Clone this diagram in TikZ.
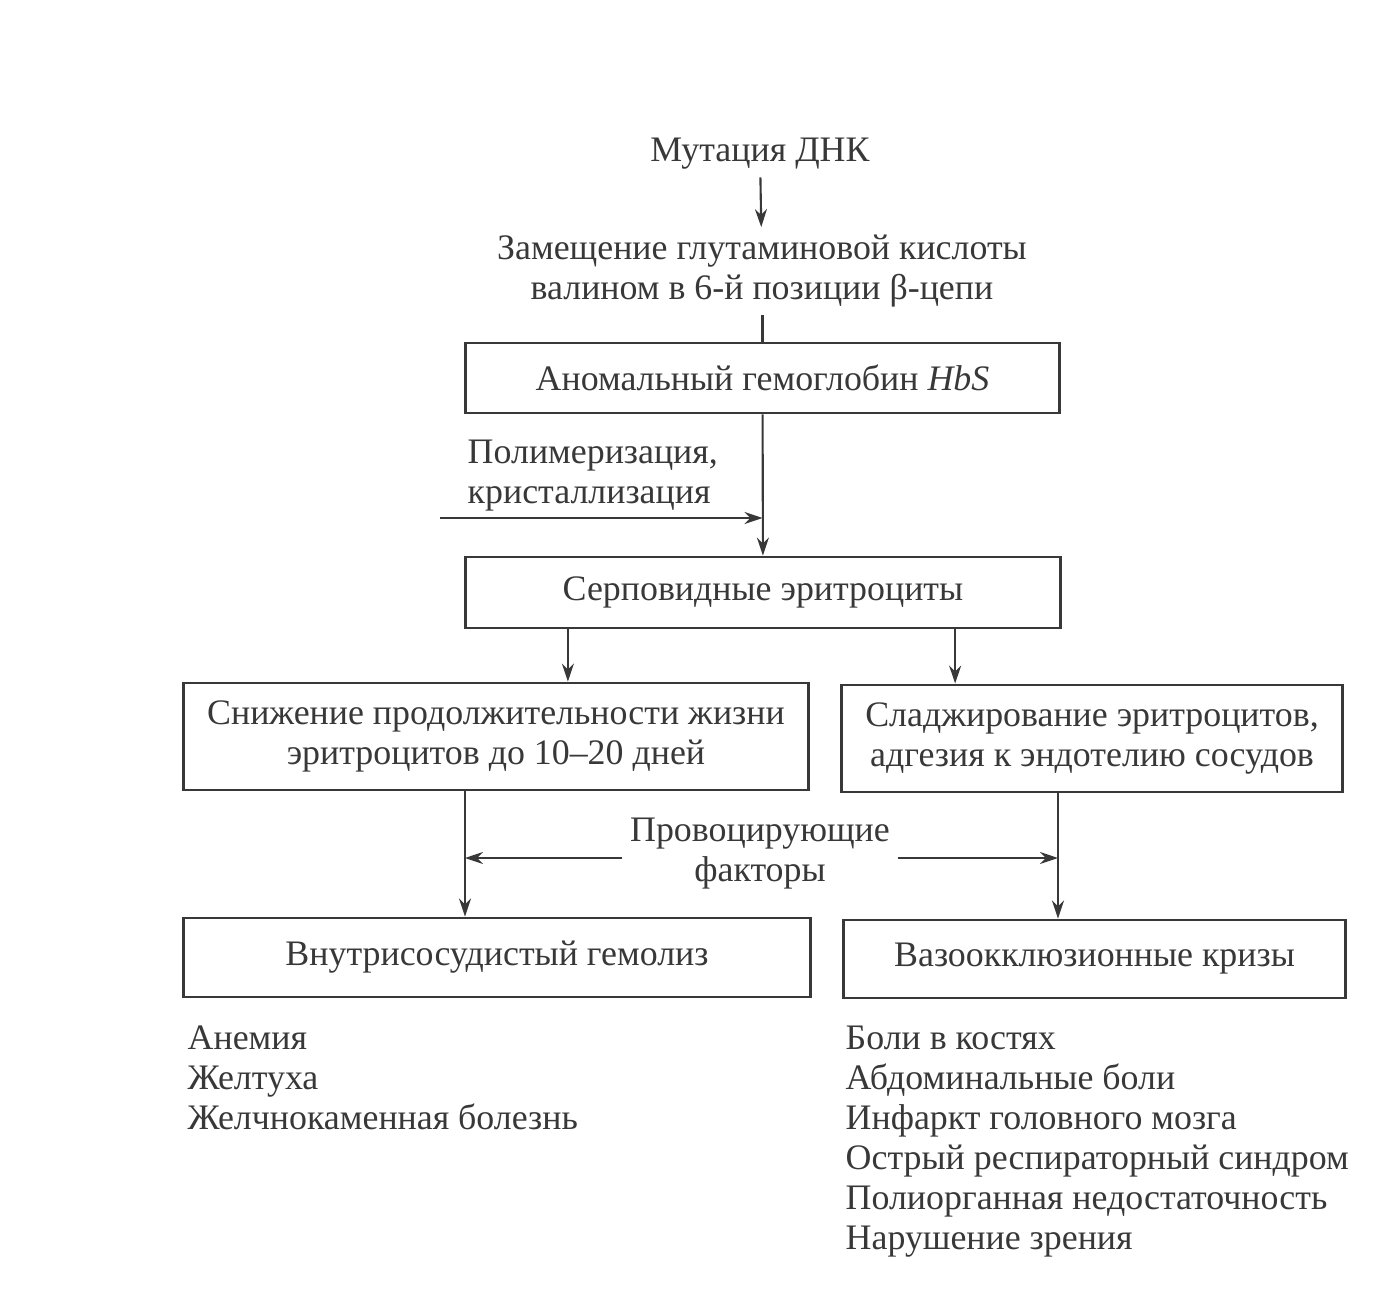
\documentclass[tikz,border=0pt]{standalone}
\usepackage{fontspec}
\setmainfont{Liberation Serif}
\usetikzlibrary{positioning,arrows.meta,calc}
\definecolor{ink}{gray}{0.22}

\begin{document}
\begin{tikzpicture}[
  x=0.01cm, y=-0.01cm,
  font=\fontsize{10.2}{11.4}\selectfont, color=ink, >={Stealth[length=1.8mm,width=1.2mm]},
  box/.style={draw=ink, line width=0.8pt, align=center, inner sep=1pt},
  lbl/.style={align=center, inner sep=2pt},
  arr/.style={->, line width=0.6pt, draw=ink},
  ln/.style={line width=0.6pt, draw=ink},
]
\useasboundingbox (0,0) rectangle (1398,1289);

\node[lbl] (mut) at (760,154) {Мутация ДНК};
\node[lbl] (zam) at (762,271) {Замещение глутаминовой кислоты\\валином в 6-й позиции β-цепи};

\node[box, minimum width=5.93cm, minimum height=0.70cm] (hbs) at (762.5,378)
  {Аномальный гемоглобин \textit{HbS}};
\node[lbl, align=left, anchor=west] (pol) at (460,476) {Полимеризация,\\кристаллизация};
\node[box, minimum width=5.94cm, minimum height=0.71cm] (serp) at (763,592.5)
  {Серповидные эритроциты};

\node[box, minimum width=6.24cm, minimum height=1.07cm] (sniz) at (496,736.5)
  {Снижение продолжительности жизни\\эритроцитов до 10–20 дней};
\node[box, minimum width=5.00cm, minimum height=1.07cm] (sladzh) at (1092,738.5)
  {Сладжирование эритроцитов,\\адгезия к эндотелию сосудов};

\node[lbl] (prov) at (760,854) {Провоцирующие\\факторы};

\node[box, minimum width=6.26cm, minimum height=0.79cm] (gemol) at (497,957.5)
  {Внутрисосудистый гемолиз};
\node[box, minimum width=5.01cm, minimum height=0.78cm] (kriz) at (1094.5,959)
  {Вазоокклюзионные кризы};

\node[align=left, anchor=north west, inner sep=0pt] (symL) at (187,1025)
  {Анемия\\Желтуха\\Желчнокаменная болезнь};
\node[align=left, anchor=north west, inner sep=0pt] (symR) at (845,1025)
  {Боли в костях\\Абдоминальные боли\\Инфаркт головного мозга\\Острый респираторный синдром\\Полиорганная недостаточность\\Нарушение зрения};

% connectors
\draw[arr] (mut) -- (zam);
\draw[ln] (zam.south -| hbs.north) -- (hbs.north);
\draw[arr] (hbs) -- (serp);
\coordinate (polin) at (440,518);
\draw[arr] (polin) -- (polin -| hbs.south);

\draw[arr] ([xshift=-1.95cm]serp.south) -- ([xshift=-1.95cm]serp.south |- sniz.north);
\draw[arr] ([xshift=1.92cm]serp.south) -- ([xshift=1.92cm]serp.south |- sladzh.north);

\coordinate (lx) at ([xshift=-0.31cm]sniz.south);
\coordinate (rx) at ([xshift=-0.34cm]sladzh.south);
\draw[arr] (lx) -- (lx |- gemol.north);
\draw[arr] (rx) -- (rx |- kriz.north);

\draw[arr] ([yshift=-0.04cm]prov.west) -- ([yshift=-0.04cm]prov.west -| lx);
\draw[arr] ([yshift=-0.04cm]prov.east) -- ([yshift=-0.04cm]prov.east -| rx);
\end{tikzpicture}
\end{document}
